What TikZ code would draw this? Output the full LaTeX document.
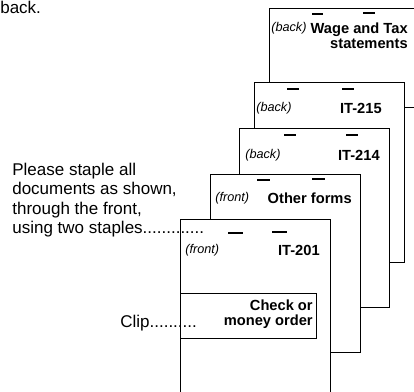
\documentclass[tikz,border=0pt]{standalone}
\usepackage{fontspec}
\setmainfont{Liberation Sans}

\begin{document}
\begin{tikzpicture}[x=0.6pt, y=-0.6pt, sheet/.style={draw, fill=white, line width=0.6pt}, staple/.style={line width=1.1pt}, side/.style={font=\fontsize{7.6}{8}\selectfont\itshape, inner sep=0pt}, title/.style={font=\fontsize{8.8}{9}\selectfont\bfseries, inner sep=0pt, align=right}, note/.style={font=\fontsize{10.2}{11.7}\selectfont, inner sep=0pt}]

\useasboundingbox (0,0) rectangle (414,391); \clip (0,0) rectangle (414,391);
\node[note, anchor=base west] (back) at (0,13) {back.};

% the documents, from the back to the front
\draw[sheet] (269,8) rectangle (430,107); \draw[staple] (312,14)--(323,14) (363,13)--(375,13);
\node[side, anchor=west] (wageside) at (271,28) {(back)}; \node[title, anchor=east] (wage) at (408,36) {Wage and Tax\\statements};
\draw[sheet] (254,82) rectangle (404,262); \draw[staple] (287,89)--(299,89) (342,89)--(354,89);
\node[side, anchor=west] (itbside) at (256,108) {(back)}; \node[title, anchor=east] (itb) at (382,108) {IT-215};
\draw[sheet] (239,128) rectangle (389,307); \draw[staple] (284,135)--(296,135) (346,135)--(358,135);
\node[side, anchor=west] (itaside) at (245,155) {(back)}; \node[title, anchor=east] (ita) at (380,155) {IT-214};
\draw[sheet] (210,174) rectangle (360,352); \draw[staple] (257,180)--(270,180) (312,179)--(325,179);
\node[side, anchor=west] (otherside) at (215,198) {(front)}; \node[title, anchor=east] (other) at (352,198) {Other forms};
\draw[sheet] (180,219) rectangle (330,400); \draw[staple] (228,233)--(243,233) (272,232)--(287,232);
\node[side, anchor=west] (mainside) at (185,250) {(front)}; \node[title, anchor=east] (main) at (320,250) {IT-201};
\draw[sheet] (180,293) rectangle (316,338); \node[title, anchor=east] (check) at (313,314.5) {Check or\\money order};

% notes on the left
\node[note, anchor=base west] (line1) at (12,175) {Please staple all};
\node[note, anchor=base west] (line2) at (12,194.5) {documents as shown,};
\node[note, anchor=base west] (line3) at (12,214) {through the front,};
\node[note, anchor=base west] (line4) at (12,233.5) {using two staples.............};
\node[note, anchor=base west] (clip) at (120,327) {Clip..........};
\end{tikzpicture}
\end{document}
